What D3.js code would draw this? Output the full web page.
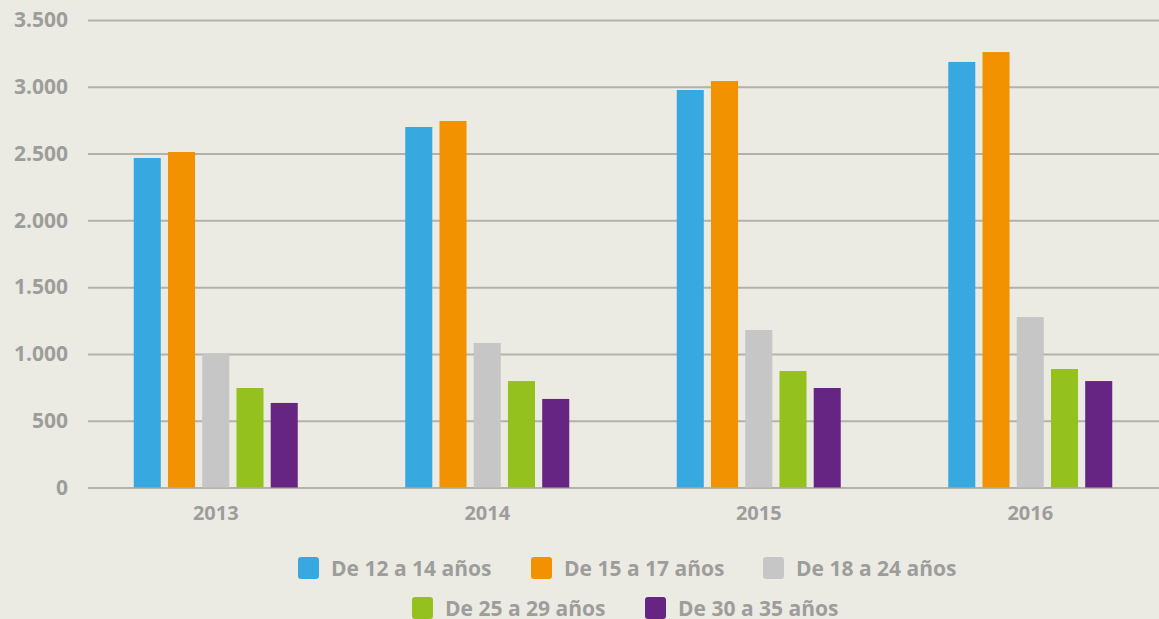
<!DOCTYPE html>
<html>
<head>
<meta charset="utf-8">
<script src="https://cdn.jsdelivr.net/npm/d3@7"></script>
<style>
  html, body { margin: 0; padding: 0; background: #ecebe3; }
  text { font-family: 'Open Sans', Lato, sans-serif; font-weight: 700; fill: #9d9d9c; }
</style>
</head>
<body>
<div class="chart"></div>
<script>
const svgWidth = 1159;
const svgHeight = 619;

const years = ['2013', '2014', '2015', '2016'];
const seriesNames = ['De 12 a 14 años', 'De 15 a 17 años', 'De 18 a 24 años', 'De 25 a 29 años', 'De 30 a 35 años'];
const seriesColors = ['#38a9e0', '#f39200', '#c6c6c6', '#95c11f', '#662483'];
const age12to14 = [2467, 2699, 2976, 3186];
const age15to17 = [2512, 2744, 3043, 3260];
const age18to24 = [1002, 1082, 1179, 1276];
const age25to29 = [745, 797, 872, 887];
const age30to35 = [633, 663, 745, 797];
const yTicks = [0, 500, 1000, 1500, 2000, 2500, 3000, 3500];

const seriesValues = [age12to14, age15to17, age18to24, age25to29, age30to35];

const svg = d3.select('.chart')
  .append('svg')
  .attr('width', svgWidth)
  .attr('height', svgHeight);

const gridLeft = 88;
const gridRight = svgWidth;
const groupWidth = 164;

const yScale = d3.scaleLinear()
  .domain([0, 3500])
  .range([487.5, 20]);

const xScale = d3.scaleBand()
  .domain(years)
  .range([80, 1166]);

const innerScale = d3.scaleBand()
  .domain(seriesNames)
  .range([0, groupWidth])
  .paddingInner(0.21);

const fmt = d3.formatLocale({ decimal: ',', thousands: '.', grouping: [3], currency: ['', '€'] }).format(',');

// gridlines + y labels
const yAxis = d3.axisLeft(yScale)
  .tickValues(yTicks)
  .tickSize(-(gridRight - gridLeft))
  .tickPadding(20)
  .tickFormat(fmt);

svg.append('g')
  .attr('transform', `translate(${gridLeft}, 0)`)
  .call(yAxis)
  .call(g => g.select('.domain').remove())
  .call(g => g.selectAll('.tick line').attr('stroke', '#b2b1ab').attr('stroke-width', 2))
  .call(g => g.selectAll('.tick text').style('font-size', '21px').attr('fill', '#9d9d9c'));

// bars
const groups = svg.append('g')
  .selectAll('g')
  .data(years)
  .join('g')
  .attr('transform', d => `translate(${xScale(d) + (xScale.bandwidth() - groupWidth) / 2}, 0)`);

groups.selectAll('rect')
  .data((d, i) => seriesNames.map((name, s) => ({ name, color: seriesColors[s], value: seriesValues[s][i] })))
  .join('rect')
  .attr('x', d => innerScale(d.name))
  .attr('width', innerScale.bandwidth())
  .attr('y', d => yScale(d.value))
  .attr('height', d => yScale(0) - yScale(d.value))
  .attr('fill', d => d.color);

// x labels
const xAxis = d3.axisBottom(xScale).tickSize(0).tickPadding(18);
svg.append('g')
  .attr('transform', `translate(0, ${yScale(0)})`)
  .call(xAxis)
  .call(g => g.select('.domain').remove())
  .call(g => g.selectAll('.tick text').style('font-size', '20px').attr('fill', '#9d9d9c'));

// legend
const legendPos = [
  { x: 298, y: 557 }, { x: 531, y: 557 }, { x: 763, y: 557 },
  { x: 412, y: 597 }, { x: 645, y: 597 }
];

const legend = svg.append('g')
  .selectAll('g')
  .data(seriesNames)
  .join('g')
  .attr('transform', (d, i) => `translate(${legendPos[i].x}, ${legendPos[i].y})`);

legend.append('rect')
  .attr('width', 21)
  .attr('height', 22)
  .attr('rx', 3)
  .attr('fill', (d, i) => seriesColors[i]);

legend.append('text')
  .attr('x', 33)
  .attr('y', 19)
  .style('font-size', '21px')
  .text(d => d);
</script>
</body>
</html>
